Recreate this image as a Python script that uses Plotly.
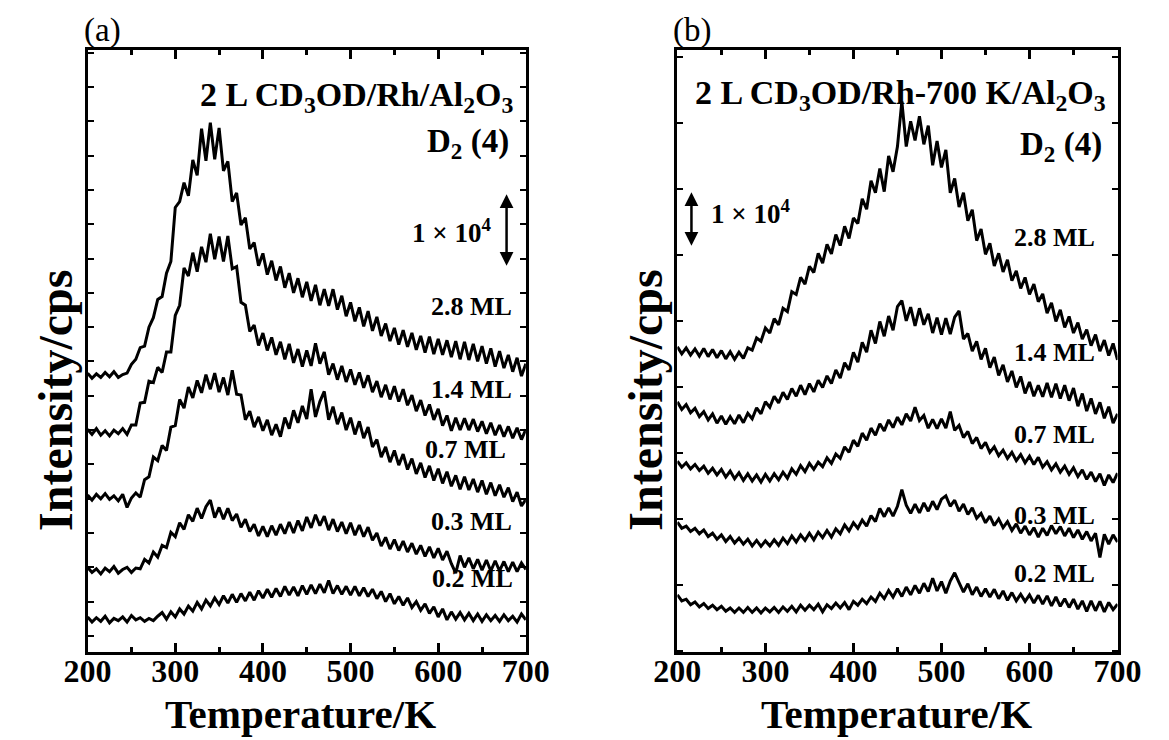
import plotly.graph_objects as go

# ---------------- data (intensity in units of 10^3 cps, relative to each curve's baseline) -------------
temperature = list(range(200, 701, 5))  # K
coverage_labels = ["0.2 ML", "0.3 ML", "0.7 ML", "1.4 ML", "2.8 ML"]

# panel (a): 2 L CD3OD/Rh/Al2O3, D2 (m/z 4)
a_02 = [0.3, -0.4, 0.2, -0.3, 0.4, -0.5, 0.1, -0.2, 0.3, -0.4,
        0.5, -0.1, 0.2, -0.3, 0.1, -0.2, 0.4, 0.9, 0.0, 1.0,
        0.3, 1.4, 0.7, 1.8, 1.1, 2.3, 1.4, 2.6, 1.8, 2.9,
        2.0, 3.2, 2.2, 3.4, 2.3, 3.5, 2.5, 3.7, 2.6, 3.9,
        2.9, 4.1, 3.0, 4.2, 3.1, 4.5, 3.3, 4.4, 3.2, 4.6,
        3.4, 4.7, 3.5, 4.8, 3.6, 5.3, 3.5, 4.6, 3.4, 4.5,
        3.3, 4.5, 3.2, 4.3, 3.1, 4.1, 2.8, 3.8, 2.4, 3.5,
        2.1, 3.1, 1.9, 2.9, 1.6, 2.4, 1.2, 2.1, 0.8, 1.7,
        0.3, 1.4, -0.1, 1.0, 0.0, 0.9, -0.1, 0.8, -0.2, 0.7,
        -0.3, 0.6, -0.2, 0.5, -0.3, 0.6, -0.2, 0.4, -0.4, 0.7,
        -0.1]
a_03 = [0.4, -0.3, 0.2, -0.5, 0.3, -0.2, 0.5, -0.4, 0.1, 0.4,
        -0.3, 0.3, 0.2, 1.5, 1.0, 2.5, 1.8, 3.4, 3.1, 5.2,
        4.6, 6.5, 5.6, 7.6, 6.7, 8.5, 7.1, 8.7, 9.6, 7.2,
        8.6, 7.0, 8.5, 6.8, 7.7, 5.9, 7.0, 5.3, 6.3, 4.7,
        6.0, 4.6, 6.1, 4.8, 6.3, 5.0, 6.6, 5.1, 6.8, 5.4,
        7.3, 5.8, 7.6, 6.1, 7.4, 5.5, 7.0, 5.3, 6.6, 5.0,
        6.5, 4.8, 6.2, 4.6, 5.9, 4.1, 5.1, 3.3, 4.5, 2.9,
        4.2, 2.7, 4.0, 2.5, 3.7, 2.2, 3.4, 1.9, 3.2, 1.7,
        3.0, 1.4, 2.6, 0.9, -0.4, 2.0, 0.4, 1.7, 0.2, 1.5,
        0.0, 1.4, -0.1, 1.3, -0.1, 1.2, -0.2, 1.1, -0.2, 1.0,
        0.1]
a_07 = [0.3, -0.4, 0.4, -0.2, 0.5, -0.3, 0.2, -0.5, 0.4, -1.4,
        -0.1, 0.6, 0.0, 2.4, 2.8, 5.5, 5.0, 7.1, 6.4, 9.6,
        9.8, 13.4, 12.2, 15.1, 13.6, 16.0, 14.3, 16.8, 14.8, 17.0,
        14.4, 16.4, 14.0, 17.4, 14.1, 14.0, 10.6, 11.8, 9.6, 11.0,
        9.1, 10.6, 8.5, 10.0, 8.3, 10.9, 9.4, 11.9, 10.2, 12.5,
        10.7, 14.8, 11.0, 13.1, 14.5, 10.6, 12.4, 10.0, 11.6, 9.2,
        10.9, 8.6, 10.4, 8.1, 9.6, 6.9, 7.9, 5.5, 6.9, 4.8,
        6.4, 4.4, 5.9, 3.8, 5.3, 3.2, 4.7, 2.7, 4.3, 2.3,
        3.9, 1.9, 3.5, 1.5, 3.0, 1.1, 2.8, 1.0, 2.5, 0.7,
        2.3, 0.4, 2.0, 0.2, 1.7, 0.0, 1.3, -0.6, 0.7, -1.2,
        -0.3]
a_14 = [0.4, -0.3, 0.5, -0.4, 0.2, -0.5, 0.3, -0.2, 0.5, -0.3,
        1.0, 1.0, 4.0, 4.1, 7.0, 6.8, 8.9, 8.2, 11.0, 11.0,
        16.0, 17.4, 22.5, 21.4, 24.6, 22.0, 25.4, 23.3, 27.2, 23.7,
        26.8, 23.4, 26.9, 22.4, 22.7, 17.8, 17.4, 13.8, 14.7, 11.9,
        13.6, 11.2, 13.0, 10.6, 12.4, 10.0, 12.1, 9.5, 11.4, 9.0,
        11.2, 9.1, 12.2, 9.4, 11.0, 7.9, 9.4, 7.2, 9.1, 6.9,
        8.6, 6.5, 8.2, 6.1, 7.8, 5.5, 7.0, 4.8, 6.5, 4.5,
        6.3, 4.2, 5.9, 3.7, 5.1, 2.9, 4.4, 2.3, 3.8, 1.7,
        3.2, 0.9, 2.3, 0.2, 2.0, 0.3, 1.9, 0.3, 1.8, 0.1,
        1.5, -0.2, 1.3, -0.4, 1.0, -0.6, 0.8, -0.8, 0.6, -1.0,
        0.4]
a_28 = [0.3, -0.4, 0.2, -0.3, 0.4, -0.2, 0.5, -0.3, 0.1, 0.3,
        1.5, 2.2, 3.8, 4.0, 6.6, 7.9, 10.4, 10.8, 14.0, 15.6,
        23.0, 23.8, 26.4, 24.6, 29.5, 27.4, 33.8, 29.4, 34.6, 29.6,
        33.9, 28.0, 29.3, 23.8, 25.0, 20.6, 21.6, 17.3, 18.2, 15.0,
        16.7, 13.8, 15.7, 13.0, 14.9, 12.0, 14.0, 11.3, 13.3, 10.7,
        12.8, 10.2, 12.4, 9.6, 11.8, 9.5, 11.8, 9.0, 10.9, 8.1,
        10.0, 7.4, 9.3, 6.7, 8.8, 6.1, 8.0, 5.4, 7.1, 4.7,
        6.5, 4.2, 6.2, 3.9, 5.8, 3.5, 5.4, 3.1, 5.3, 2.9,
        5.0, 2.8, 4.8, 2.5, 4.7, 2.2, 4.6, 2.1, 4.3, 1.9,
        4.0, 1.6, 3.7, 1.2, 3.3, 1.0, 2.8, 0.5, 2.4, -0.1,
        1.6]

# panel (b): 2 L CD3OD/Rh-700 K/Al2O3, D2 (m/z 4)
b_02 = [0.6, -0.5, -0.2, -1.2, -0.7, -1.6, -1.0, -1.9, -1.3, -2.1,
        -1.5, -2.4, -1.8, -2.6, -1.8, -2.6, -1.7, -2.6, -1.8, -2.7,
        -1.8, -2.5, -1.7, -2.6, -1.6, -2.4, -1.5, -2.5, -1.3, -2.2,
        -1.3, -2.1, -1.1, -2.5, -1.2, -1.9, -0.9, -1.8, -0.8, -2.1,
        -0.6, -1.3, -0.2, -1.0, 0.2, -0.6, 0.9, -0.1, 1.4, 0.2,
        1.7, 0.3, 2.0, 0.6, 2.3, 0.9, 2.7, 1.2, 3.6, 1.3,
        3.0, 0.9, 3.1, 4.6, 2.8, 1.1, 2.6, 0.6, 2.0, 0.3,
        1.7, 0.2, 1.6, -0.1, 1.3, -0.4, 1.0, -0.5, 0.7, -0.6,
        0.6, -0.9, 0.5, -1.1, 0.4, -1.4, 0.2, -1.5, -0.1, -1.7,
        -0.2, -2.0, -0.5, -2.4, -0.5, -2.3, -0.6, -2.5, -0.8, -2.1,
        -1.1]
b_03 = [0.5, -0.6, -0.2, -1.2, -0.6, -1.6, -0.9, -2.1, -1.5, -2.6,
        -1.8, -3.0, -2.1, -3.3, -2.4, -3.5, -2.6, -3.8, -2.8, -3.9,
        -2.9, -3.8, -2.7, -3.7, -2.4, -3.4, -2.0, -3.1, -1.8, -2.8,
        -1.5, -2.7, -1.3, -2.3, -1.0, -2.2, -0.7, -1.6, 0.0, -1.1,
        0.4, -0.6, 0.9, -0.2, 1.7, 0.6, 3.0, 1.5, 3.1, 1.6,
        3.4, 6.4, 3.6, 2.1, 3.8, 2.2, 4.0, 2.5, 4.3, 2.8,
        4.7, 5.3, 3.4, 4.5, 2.5, 3.8, 1.9, 3.1, 1.2, 2.1,
        0.4, 1.6, -0.1, 1.1, -0.5, 0.6, -1.0, 0.2, -1.5, -0.2,
        -1.8, -0.5, -2.2, -0.6, -1.9, -0.1, -1.6, -0.3, -2.0, -0.6,
        -2.3, -0.9, -2.6, -1.2, -2.9, -1.5, -5.9, -1.7, -3.5, -1.8,
        -3.1]
b_07 = [0.5, -0.6, 0.2, -0.9, -0.1, -1.2, -0.4, -1.7, -0.8, -2.0,
        -1.0, -2.4, -1.3, -2.7, -1.6, -3.0, -1.8, -3.1, -2.0, -3.3,
        -1.9, -3.1, -1.8, -2.9, -1.5, -2.6, -0.9, -1.9, -0.3, -1.4,
        0.1, -1.0, 0.3, -0.5, 1.1, 0.1, 1.8, 1.0, 3.1, 2.1,
        4.3, 3.2, 5.6, 4.3, 6.5, 5.2, 7.3, 6.0, 8.0, 6.6,
        8.5, 7.1, 9.1, 7.8, 10.3, 7.9, 8.8, 6.5, 8.1, 6.4,
        8.2, 6.5, 9.5, 6.1, 7.0, 4.8, 5.9, 3.7, 4.8, 2.8,
        3.9, 2.1, 3.1, 1.5, 2.5, 1.0, 2.1, 0.6, 1.7, 0.2,
        1.4, -0.1, 1.2, -0.6, 0.4, -1.1, 0.0, -1.5, -0.4, -1.9,
        -0.7, -2.3, -1.1, -2.8, -1.5, -3.2, -1.8, -3.9, -2.0, -3.4,
        -1.7]
b_14 = [0.6, -0.8, 0.1, -1.4, -0.6, -2.1, -1.2, -2.7, -1.6, -3.3,
        -2.0, -3.5, -2.1, -3.4, -1.8, -3.2, -1.5, -2.5, -0.5, -1.6,
        0.6, -0.4, 1.6, 0.4, 2.3, 1.0, 3.0, 1.6, 3.6, 1.9,
        3.9, 2.4, 4.5, 3.2, 5.3, 3.9, 6.4, 4.9, 7.7, 6.4,
        9.6, 7.8, 11.4, 9.6, 13.6, 11.2, 15.2, 12.5, 16.2, 13.6,
        17.9, 19.0, 15.3, 17.8, 14.4, 17.6, 14.6, 16.6, 13.1, 15.9,
        12.8, 15.8, 12.9, 16.0, 17.1, 12.0, 13.0, 9.8, 11.6, 8.3,
        10.3, 6.8, 8.7, 5.4, 7.3, 4.2, 6.2, 3.2, 5.2, 2.1,
        4.2, 1.6, 3.6, 1.5, 4.0, 1.4, 3.9, 1.2, 3.6, 0.8,
        3.1, -0.2, 2.1, -1.1, 1.2, -1.6, 0.5, -2.4, -0.3, -3.3,
        -1.6]
b_28 = [0.6, -0.7, 0.4, -0.9, 0.2, -1.1, 0.3, -1.2, 0.1, -1.4,
        -0.1, -1.6, -0.3, -1.7, -0.4, -1.5, 0.4, 0.0, 2.2, 1.6,
        4.0, 3.1, 5.7, 4.6, 7.6, 7.0, 10.6, 10.1, 13.2, 12.0,
        15.2, 14.1, 17.6, 15.8, 19.2, 17.5, 21.0, 19.0, 22.5, 20.3,
        24.0, 23.0, 27.5, 25.6, 30.8, 28.6, 33.0, 28.8, 35.3, 32.4,
        37.0, 45.2, 37.0, 41.6, 38.1, 42.5, 37.4, 40.8, 33.6, 38.0,
        33.2, 36.4, 28.6, 31.2, 26.0, 28.6, 23.5, 25.5, 19.9, 22.0,
        17.4, 19.4, 15.3, 17.6, 14.2, 16.4, 12.6, 14.4, 11.2, 13.2,
        10.1, 12.0, 8.8, 10.2, 6.7, 8.6, 5.2, 7.3, 4.1, 6.1,
        3.1, 5.0, 2.0, 3.7, 0.8, 2.8, -0.2, 1.8, -1.0, 1.2,
        -1.8]

series_a = [a_02, a_03, a_07, a_14, a_28]
series_b = [b_02, b_03, b_07, b_14, b_28]
# vertical stacking offsets (10^3 cps)
offsets_a = [4.5, 11.2, 21.2, 30.1, 37.9]
offsets_b = [9.8, 23.1, 34.2, 44.9, 54.9]
scale_bar = 10.0  # 1 x 10^4 cps

# ---------------- styling ----------------
W, H = 1169, 740
OFF = 8  # page body margin of the saved html
FONT = "Liberation Serif, Times New Roman, serif"
BLACK = "black"
TOP, BOTTOM = 50, 652          # frame edges (page px)
PPK_A, PPK_B = 7.3, 5.5        # px per 10^3 cps in each panel

def px_x(p):
    return (p - OFF) / W

def px_y(p):
    return (H - (p - OFF)) / H

fig = go.Figure()

for vals, off in zip(series_a, offsets_a):
    fig.add_trace(go.Scatter(x=temperature, y=[off + v for v in vals], mode="lines",
                             line=dict(color=BLACK, width=3), xaxis="x", yaxis="y",
                             showlegend=False, hoverinfo="skip"))
for vals, off in zip(series_b, offsets_b):
    fig.add_trace(go.Scatter(x=temperature, y=[off + v for v in vals], mode="lines",
                             line=dict(color=BLACK, width=3), xaxis="x2", yaxis="y2",
                             showlegend=False, hoverinfo="skip"))

y_dom = [px_y(BOTTOM), px_y(TOP)]

def xaxis_style(domain, anchor):
    return dict(domain=domain, anchor=anchor, range=[200, 700], showgrid=False, zeroline=False,
                showline=True, linecolor=BLACK, linewidth=3, mirror="allticks",
                ticks="inside", ticklen=9, tickwidth=2.5, tickcolor=BLACK,
                tick0=200, dtick=100, ticklabelstandoff=-11,
                minor=dict(dtick=50, ticks="inside", ticklen=5, tickwidth=2.5, tickcolor=BLACK),
                tickfont=dict(family=FONT, size=32, color=BLACK, weight="bold"))

def yaxis_style(anchor, rng, tick0, dtick):
    return dict(domain=y_dom, anchor=anchor, range=rng, showgrid=False, zeroline=False,
                showline=True, linecolor=BLACK, linewidth=3, mirror="allticks",
                ticks="inside", ticklen=6, tickwidth=2, tickcolor=BLACK,
                tick0=tick0, dtick=dtick, showticklabels=False)

fig.update_layout(
    width=W, height=H, margin=dict(l=0, r=0, t=0, b=0),
    paper_bgcolor="white", plot_bgcolor="white",
    xaxis=xaxis_style([px_x(66), px_x(523)], "y"),
    yaxis=yaxis_style("x", [0, (BOTTOM - TOP) / PPK_A], 2.2, 4.7),
    xaxis2=xaxis_style([px_x(681), px_x(1140)], "y2"),
    yaxis2=yaxis_style("x2", [0, (BOTTOM - TOP) / PPK_B], 0.2, 12),
)

ann = []
def text(x, y, s, size, xanchor="center", yanchor="middle", bold=True, xref="paper", yref="paper", angle=0):
    ann.append(dict(x=x, y=y, xref=xref, yref=yref, text=(f"<b>{s}</b>" if bold else s),
                    showarrow=False, xanchor=xanchor, yanchor=yanchor, textangle=angle,
                    font=dict(family=FONT, size=size, color=BLACK)))

# panel letters (sit just above the frame)
text(px_x(60), px_y(TOP + 1), "(a)", 33, xanchor="left", yanchor="bottom", bold=False)
text(px_x(674), px_y(TOP + 1), "(b)", 33, xanchor="left", yanchor="bottom", bold=False)
# titles
text(px_x(513), px_y(97), "2 L CD<sub>3</sub>OD/Rh/Al<sub>2</sub>O<sub>3</sub>", 34, xanchor="right")
text(px_x(507), px_y(143), "D<sub>2</sub> (4)", 33, xanchor="right")
text(px_x(1130), px_y(95), "2 L CD<sub>3</sub>OD/Rh-700 K/Al<sub>2</sub>O<sub>3</sub>", 34, xanchor="right")
text(px_x(1126), px_y(146), "D<sub>2</sub> (4)", 33, xanchor="right")
# axis titles
text(px_x(288), px_y(739), "Temperature/K", 41, yanchor="bottom")
text(px_x(910), px_y(739), "Temperature/K", 41, yanchor="bottom")
text(px_x(33), px_y(400), "Intensity/cps", 48, angle=-90)
text(px_x(648), px_y(400), "Intensity/cps", 48, angle=-90)

# coverage labels
lab_pos_a = [(688, 10.1), (687, 17.9), (680, 27.8), (687, 35.9), (687, 47.3)]
lab_pos_b = [(677, 14.2), (677, 24.9), (677, 39.6), (677, 54.4), (677, 75.3)]
for lab, (x, y) in zip(coverage_labels, lab_pos_a):
    text(x, y, lab, 26, xanchor="right", xref="x", yref="y")
for lab, (x, y) in zip(coverage_labels, lab_pos_b):
    text(x, y, lab, 26, xanchor="right", xref="x2", yref="y2")

# scale bars
text(662, 57.7, "1 × 10<sup>4</sup>", 27, xanchor="right", xref="x", yref="y")
text(236, 80.0, "1 × 10<sup>4</sup>", 27, xanchor="left", xref="x2", yref="y2")
for xr, yr, xv, y0 in [("x", "y", 678, 52.7), ("x2", "y2", 216, 73.6)]:
    ann.append(dict(x=xv, y=y0 + scale_bar, ax=xv, ay=y0, xref=xr, yref=yr, axref=xr, ayref=yr,
                    text="", showarrow=True, arrowhead=2, arrowside="end+start",
                    arrowsize=1.1, arrowwidth=2.5, arrowcolor=BLACK, standoff=0, startstandoff=0))

fig.update_layout(annotations=ann)
fig.write_html("out.html", config={"displayModeBar": False})
